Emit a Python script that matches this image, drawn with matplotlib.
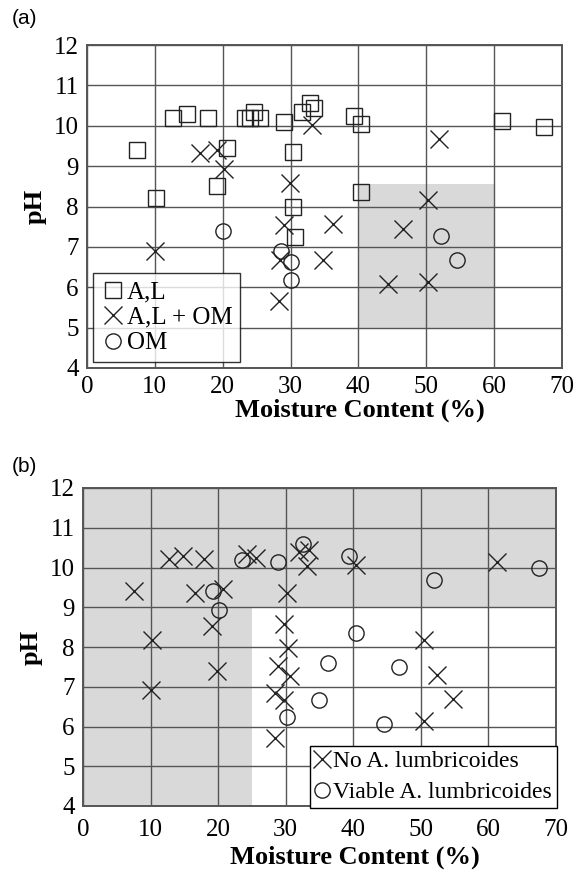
import matplotlib
matplotlib.use("Agg")
import matplotlib.pyplot as plt
from matplotlib.patches import Polygon

plt.rcParams['font.family'] = ['Liberation Serif', 'DejaVu Serif']

# ---------- Panel (a) data ----------
al_x = [7.4, 10.2, 12.6, 14.8, 17.9, 19.1, 20.6, 23.3, 24.0, 24.6, 25.5, 29.0, 30.3, 30.4, 30.6,
        31.7, 32.8, 33.5, 39.4, 40.4, 40.4, 61.1, 67.4]
al_y = [9.4, 8.2, 10.2, 10.3, 10.2, 8.5, 9.45, 10.2, 10.2, 10.35, 10.2, 10.1, 9.35, 8.0, 7.25,
        10.35, 10.57, 10.45, 10.25, 10.05, 8.35, 10.12, 9.97]
alom_x = [10.0, 16.6, 19.2, 20.2, 29.85, 33.1, 51.9, 50.2, 29.1, 28.4, 28.3, 36.2, 34.8, 46.5, 44.3, 50.2]
alom_y = [6.9, 9.33, 9.4, 8.92, 8.57, 10.03, 9.66, 8.15, 7.53, 6.67, 5.67, 7.57, 6.67, 7.45, 6.09, 6.13]
om_x = [20.0, 28.6, 30.1, 30.1, 52.2, 54.5]
om_y = [7.4, 6.91, 6.62, 6.19, 7.26, 6.67]
labels_a = ["A,L", "A,L + OM", "OM"]
shade_a_x = [40, 60]
shade_a_y = [5.0, 8.55]

# ---------- Panel (b) data ----------
no_x = [7.5, 10.2, 10.06, 12.7, 14.8, 16.6, 17.9, 19.1, 19.8, 20.7, 24.3, 25.6, 28.4, 29.7, 28.4,
        28.8, 29.8, 30.2, 30.4, 30.7, 31.9, 33.4, 33.1, 40.4, 50.4, 52.4, 54.7, 50.4, 61.3]
no_y = [9.42, 8.18, 6.91, 10.21, 10.3, 9.37, 10.21, 8.54, 7.39, 9.46, 10.35, 10.25, 6.84, 6.67, 5.71,
        7.53, 8.58, 9.37, 7.98, 7.26, 10.4, 10.45, 10.03, 10.07, 8.18, 7.3, 6.69, 6.14, 10.13]
via_x = [19.2, 20.2, 23.5, 28.9, 32.6, 39.4, 40.4, 36.2, 34.9, 30.2, 46.7, 44.5, 52.0, 67.5]
via_y = [9.42, 8.94, 10.2, 10.13, 10.6, 10.3, 8.35, 7.6, 6.67, 6.25, 7.5, 6.07, 9.69, 9.99]
labels_b = ["No A. lumbricoides", "Viable A. lumbricoides"]
shade_b_xcut = 25
shade_b_ycut = 9

xticks = [0, 10, 20, 30, 40, 50, 60, 70]
yticks = [4, 5, 6, 7, 8, 9, 10, 11, 12]

W, H = 581, 875
fig = plt.figure(figsize=(W / 100, H / 100), dpi=100)

def frac(l, t, r, b):
    return [l / W, 1 - b / H, (r - l) / W, (b - t) / H]

ax_a = fig.add_axes(frac(87, 45, 562, 368))
ax_b = fig.add_axes(frac(83, 488, 556, 806))

gray_fill = '#d9d9d9'
mcol = '#222222'
common = dict(linestyle='none', markerfacecolor='none', markeredgecolor=mcol, markeredgewidth=1.0)

def style(ax, xpad, lpad):
    ax.set_xlim(0, 70)
    ax.set_ylim(4, 12)
    ax.set_xticks(xticks)
    ax.set_yticks(yticks)
    ax.tick_params(axis='x', length=0, labelsize=18, pad=xpad)
    ax.tick_params(axis='y', length=0, labelsize=18, pad=6)
    ax.grid(True, color='#555555', linewidth=1.0)
    ax.set_axisbelow(True)
    for s in ax.spines.values():
        s.set_color('#555555')
        s.set_linewidth(1.4)
    ax.set_xlabel("Moisture Content (%)", fontsize=19, fontweight='bold', labelpad=lpad)
    ax.set_ylabel("pH", fontsize=19, fontweight='bold', labelpad=5)
    ax.xaxis.label.set_horizontalalignment('center')
    ax.xaxis.label.set_x(0.575)

# Panel (a)
ax_a.axvspan(shade_a_x[0], shade_a_x[1], ymin=(shade_a_y[0] - 4) / 8, ymax=(shade_a_y[1] - 4) / 8,
             color=gray_fill, zorder=0.5, lw=0)
h1, = ax_a.plot(al_x, al_y, marker='s', markersize=12, label=labels_a[0], **common)
h2, = ax_a.plot(alom_x, alom_y, marker='x', markersize=13, label=labels_a[1], **common)
h3, = ax_a.plot(om_x, om_y, marker='o', markersize=11, label=labels_a[2], **common)
style(ax_a, 6, 0)
leg = ax_a.legend(loc='lower left', fontsize=18, frameon=True, fancybox=False, handlelength=1.0,
                  handletextpad=0.05, borderpad=0.3, labelspacing=0.12, borderaxespad=0.25)
leg.get_frame().set_edgecolor('black')
leg.get_frame().set_linewidth(1.0)

# Panel (b)
poly = Polygon([(0, 4), (shade_b_xcut, 4), (shade_b_xcut, shade_b_ycut), (70, shade_b_ycut),
                (70, 12), (0, 12)], closed=True, facecolor=gray_fill, edgecolor='none', zorder=0.5)
ax_b.add_patch(poly)
g1, = ax_b.plot(no_x, no_y, marker='x', markersize=13, label=labels_b[0], **common)
g2, = ax_b.plot(via_x, via_y, marker='o', markersize=11, label=labels_b[1], **common)
style(ax_b, 9, 4)
leg2 = ax_b.legend(loc='lower right', bbox_to_anchor=(1.002, -0.006), fontsize=17, frameon=True,
                   fancybox=False, handlelength=0.6, handletextpad=0.2, borderpad=0.2,
                   labelspacing=0.4, borderaxespad=0.0)
leg2.get_frame().set_edgecolor('black')
leg2.get_frame().set_linewidth(1.0)
leg2.get_frame().set_alpha(1)

fig.text(12 / W, 1 - 18 / H, "(a)", fontsize=15, family='Liberation Sans', va='center', ha='left')
fig.text(12 / W, 1 - 466 / H, "(b)", fontsize=15, family='Liberation Sans', va='center', ha='left')

fig.savefig("out.png", dpi=100)
